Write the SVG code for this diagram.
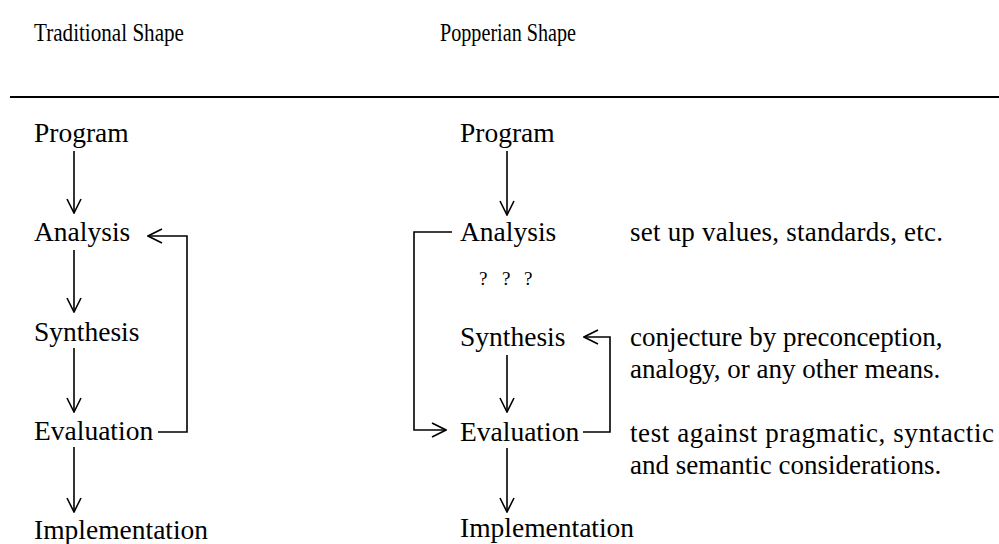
<svg xmlns="http://www.w3.org/2000/svg" width="999" height="544" viewBox="0 0 999 544">
  <style>
    text { font-family: "Liberation Serif", "Times New Roman", serif; fill: #000; }
    .head { font-size: 25px; }
    .node { font-size: 27.5px; }
    .note { font-size: 27px; }
    .q { font-size: 19px; }
    .wire { fill: none; stroke: #000; stroke-width: 1.6; }
  </style>
  <defs>
    <marker id="vee" viewBox="0 0 16 16" refX="15" refY="8" markerWidth="16" markerHeight="16" markerUnits="userSpaceOnUse" orient="auto">
      <path d="M1,1 L15,8 L1,15" fill="none" stroke="#000" stroke-width="1.6"/>
    </marker>
  </defs>

  <rect width="999" height="544" fill="#fff"/>

  <!-- column headings (set slightly condensed) -->
  <g id="headings">
    <text class="head" x="34" y="41" textLength="150" lengthAdjust="spacingAndGlyphs">Traditional Shape</text>
    <text class="head" x="440" y="41" textLength="136" lengthAdjust="spacingAndGlyphs">Popperian Shape</text>
    <line x1="10" y1="97" x2="999" y2="97" stroke="#000" stroke-width="2"/>
  </g>

  <!-- traditional sequence -->
  <g id="t-program"><text class="node" x="34" y="142">Program</text></g>
  <g id="t-analysis"><text class="node" x="34" y="241">Analysis</text></g>
  <g id="t-synthesis"><text class="node" x="34" y="341">Synthesis</text></g>
  <g id="t-evaluation"><text class="node" x="34" y="440">Evaluation</text></g>
  <g id="t-implementation"><text class="node" x="34" y="539">Implementation</text></g>

  <!-- popperian sequence -->
  <g id="p-program"><text class="node" x="460" y="142">Program</text></g>
  <g id="p-analysis"><text class="node" x="460" y="241">Analysis</text></g>
  <g id="p-unknown">
    <text class="q" x="479" y="285">?</text>
    <text class="q" x="502" y="285">?</text>
    <text class="q" x="524" y="285">?</text>
  </g>
  <g id="p-synthesis"><text class="node" x="460" y="346">Synthesis</text></g>
  <g id="p-evaluation"><text class="node" x="460" y="441">Evaluation</text></g>
  <g id="p-implementation"><text class="node" x="460" y="537">Implementation</text></g>

  <!-- annotations -->
  <g id="note-analysis"><text class="note" x="630" y="241" textLength="313" lengthAdjust="spacing">set up values, standards, etc.</text></g>
  <g id="note-synthesis">
    <text class="note" x="630" y="346">conjecture by preconception,</text>
    <text class="note" x="630" y="378">analogy, or any other means.</text>
  </g>
  <g id="note-evaluation">
    <text class="note" x="630" y="442" textLength="364" lengthAdjust="spacing">test against pragmatic, syntactic</text>
    <text class="note" x="630" y="474">and semantic considerations.</text>
  </g>

  <!-- connectors -->
  <g id="connectors" class="wire">
    <line x1="74" y1="151" x2="74" y2="213" marker-end="url(#vee)"/>
    <line x1="74" y1="250" x2="74" y2="312" marker-end="url(#vee)"/>
    <line x1="74" y1="348" x2="74" y2="412" marker-end="url(#vee)"/>
    <line x1="74" y1="447" x2="74" y2="512" marker-end="url(#vee)"/>
    <polyline points="158,432 187,432 187,236 148,236" marker-end="url(#vee)"/>

    <line x1="507" y1="151" x2="507" y2="215" marker-end="url(#vee)"/>
    <line x1="507" y1="355" x2="507" y2="412" marker-end="url(#vee)"/>
    <line x1="507" y1="448" x2="507" y2="512" marker-end="url(#vee)"/>
    <polyline points="452,232 414,232 414,430 446,430" marker-end="url(#vee)"/>
    <polyline points="583,432 610,432 610,337 584,337" marker-end="url(#vee)"/>
  </g>
</svg>
